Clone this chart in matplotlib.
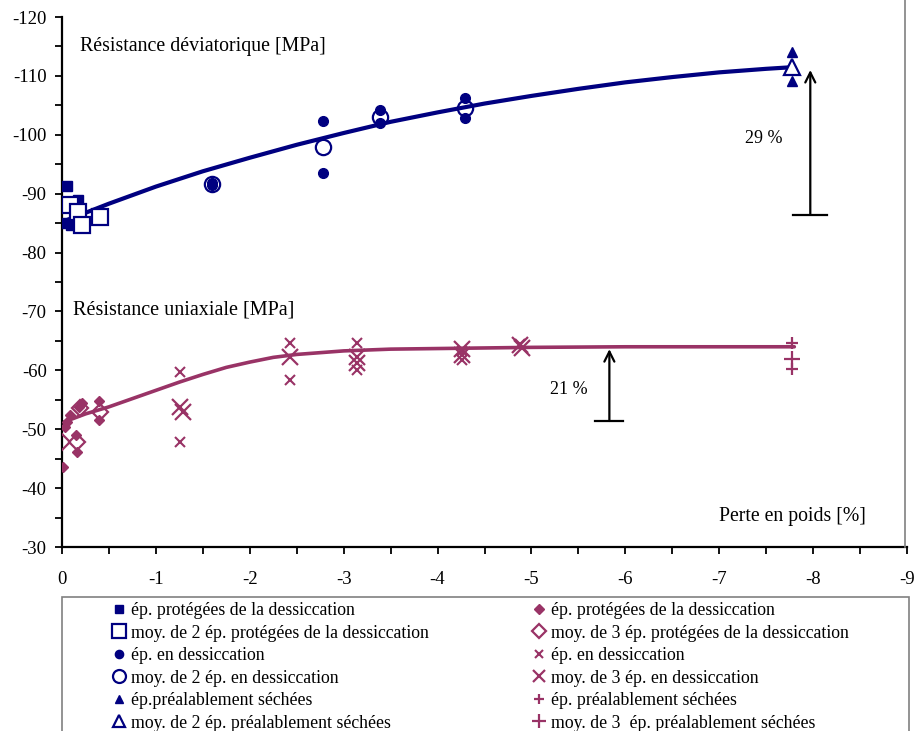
import numpy as np
import matplotlib.pyplot as plt
from matplotlib.patches import Rectangle
from matplotlib.lines import Line2D
from matplotlib.ticker import MultipleLocator

plt.rcParams['font.family'] = ['Liberation Serif', 'DejaVu Serif']
plt.rcParams['axes.unicode_minus'] = False

BLUE = '#000080'
PLUM = '#993366'

# --- Résistance déviatorique (blue) ---
dev_prot_x = [-0.05, -0.17, -0.05, -0.10]
dev_prot_y = [-91.3, -88.9, -85.0, -84.6]
dev_prot_moy_x = [-0.08, -0.17, -0.21, -0.40]
dev_prot_moy_y = [-88.1, -86.9, -84.7, -86.0]

dev_dess_x = [-1.60, -1.60, -2.78, -2.78, -3.39, -3.39, -4.29, -4.29]
dev_dess_y = [-91.4, -91.8, -102.4, -93.5, -104.2, -102.0, -106.3, -102.9]
dev_dess_moy_x = [-1.60, -2.78, -3.39, -4.29]
dev_dess_moy_y = [-91.6, -97.9, -103.1, -104.6]

dev_sech_x = [-7.78, -7.78]
dev_sech_y = [-114.0, -109.2]
dev_sech_moy_x = [-7.78]
dev_sech_moy_y = [-111.5]

dev_curve_x = [0, -0.5, -1, -1.5, -2, -2.5, -3, -3.5, -4, -4.5, -5, -5.5, -6,
               -6.5, -7, -7.5, -7.8]
dev_curve_y = [-85.2, -88.3, -91.2, -93.8, -96.1, -98.3, -100.3, -102.2, -103.8,
               -105.3, -106.6, -107.8, -108.9, -109.8, -110.6, -111.2, -111.5]

# --- Résistance uniaxiale (plum) ---
uni_prot_x = [-0.01, -0.05, -0.08, -0.03, -0.16, -0.15, -0.18, -0.21, -0.39, -0.39]
uni_prot_y = [-43.6, -51.2, -52.4, -50.3, -46.1, -49.0, -53.8, -54.5, -54.8, -51.6]
uni_prot_moy_x = [0.0, -0.16, -0.19, -0.40]
uni_prot_moy_y = [-47.8, -47.8, -53.6, -52.9]

uni_dess_x = [-1.26, -1.26, -2.43, -2.43, -3.14, -3.14, -4.26, -4.26, -4.88]
uni_dess_y = [-59.7, -47.8, -64.7, -58.4, -64.7, -60.1, -63.3, -61.8, -64.5]
uni_dess_moy_x = [-1.26, -1.29, -2.43, -3.14, -3.14, -4.26, -4.26, -4.88, -4.90]
uni_dess_moy_y = [-53.8, -52.9, -62.3, -62.3, -61.3, -63.6, -62.6, -64.3, -63.8]

uni_sech_x = [-7.78, -7.78]
uni_sech_y = [-64.7, -60.2]
uni_sech_moy_x = [-7.78]
uni_sech_moy_y = [-61.9]

uni_curve_x = [0, -0.25, -0.5, -0.75, -1, -1.25, -1.5, -1.75, -2, -2.25, -2.5,
               -3, -3.5, -4, -5, -6, -7, -7.8]
uni_curve_y = [-51.1, -52.6, -53.8, -55.2, -56.6, -58.0, -59.3, -60.5, -61.4,
               -62.2, -62.7, -63.3, -63.6, -63.7, -63.9, -64.0, -64.0, -64.0]

# gain arrows: x, bottom, top
gain_dev = (-7.97, -86.4, -111.0)
gain_uni = (-5.83, -51.4, -63.6)

fig = plt.figure(figsize=(9.17, 7.31), dpi=100)
ax = fig.add_axes([62/917, 1 - 547/731, (907 - 62)/917, (547 - 17)/731])

# trend curves
ax.plot(dev_curve_x, dev_curve_y, color=BLUE, lw=3.0, zorder=2,
        solid_capstyle='round')
ax.plot(uni_curve_x, uni_curve_y, color=PLUM, lw=2.6, zorder=2,
        solid_capstyle='round')

def pts(x, y, **kw):
    return ax.plot(x, y, ls='none', zorder=3, **kw)[0]

h1 = pts(dev_prot_x, dev_prot_y, marker='s', ms=7, color=BLUE)
h2 = pts(dev_prot_moy_x, dev_prot_moy_y, marker='s', ms=12, mfc='white',
         mec=BLUE, mew=1.6)
h3 = pts(dev_dess_x, dev_dess_y, marker='o', ms=7, color=BLUE)
h4 = pts(dev_dess_moy_x, dev_dess_moy_y, marker='o', ms=11, mfc='none',
         mec=BLUE, mew=1.6)
h5 = pts(dev_sech_x, dev_sech_y, marker='^', ms=7.5, color=BLUE)
h6 = pts(dev_sech_moy_x, dev_sech_moy_y, marker='^', ms=11, mfc='white',
         mec=BLUE, mew=1.6)

g1 = pts(uni_prot_x, uni_prot_y, marker='D', ms=5.5, color=PLUM)
g2 = pts(uni_prot_moy_x, uni_prot_moy_y, marker='D', ms=8, mfc='none',
         mec=PLUM, mew=1.6)
g3 = pts(uni_dess_x, uni_dess_y, marker='x', ms=6.5, color=PLUM, mew=1.5)
g4 = pts(uni_dess_moy_x, uni_dess_moy_y, marker='x', ms=11, color=PLUM, mew=1.6)
g5 = pts(uni_sech_x, uni_sech_y, marker='+', ms=8, color=PLUM, mew=1.6)
g6 = pts(uni_sech_moy_x, uni_sech_moy_y, marker='+', ms=12, color=PLUM, mew=1.6)

# gain arrows with a small base bar
for (gx, gb, gt), half in ((gain_dev, 0.18), (gain_uni, 0.15)):
    ax.annotate('', xy=(gx, gt), xytext=(gx, gb),
                arrowprops=dict(arrowstyle='->', color='black', lw=1.6,
                                mutation_scale=18, shrinkA=0, shrinkB=0))
    ax.plot([gx + half, gx - half], [gb, gb], color='black', lw=1.6)

ax.text(-7.27, -99.3, '29 %', fontsize=13, va='center')
ax.text(-5.2, -56.8, '21 %', fontsize=13, va='center')
ax.text(-0.19, -115.0, 'Résistance déviatorique [MPa]', fontsize=14.3,
        va='center')
ax.text(-0.12, -70.3, 'Résistance uniaxiale [MPa]', fontsize=14.5, va='center')
ax.text(-7.0, -35.1, 'Perte en poids [%]', fontsize=14.2, va='center')

ax.set_xlim(0, -9)
ax.set_ylim(-30, -120)
ax.xaxis.set_major_locator(MultipleLocator(1))
ax.xaxis.set_minor_locator(MultipleLocator(0.5))
ax.yaxis.set_major_locator(MultipleLocator(10))
ax.yaxis.set_minor_locator(MultipleLocator(5))
ax.tick_params(which='both', direction='out', length=5, width=1.3)
ax.tick_params(axis='x', labelsize=13.5, pad=12)
ax.tick_params(axis='y', labelsize=13.5, pad=6)
for side in ('top', 'right'):
    ax.spines[side].set_visible(False)
for side in ('left', 'bottom'):
    ax.spines[side].set_linewidth(1.6)

# plot frame edge on the right
fig.add_artist(Line2D([905/917, 905/917], [1 - 547/731, 1.0],
                      transform=fig.transFigure, color='#808080', lw=1.2))

# legend box
fig.add_artist(Rectangle((62/917, -0.01), (909 - 62)/917, 1 - 597/731 + 0.01,
                         transform=fig.transFigure, fill=False,
                         edgecolor='#808080', lw=1.2))

leg_kw = dict(frameon=False, fontsize=12.8, handlelength=0.7, handletextpad=0.3,
              labelspacing=0.31, borderpad=0, borderaxespad=0, loc='upper left')
leg1 = fig.legend([h1, h2, h3, h4, h5, h6],
                  ['ép. protégées de la dessiccation',
                   'moy. de 2 ép. protégées de la dessiccation',
                   'ép. en dessiccation',
                   'moy. de 2 ép. en dessiccation',
                   'ép.préalablement séchées',
                   'moy. de 2 ép. préalablement séchées'],
                  bbox_to_anchor=(113/917, 1 - 602/731), markerscale=0.85,
                  **leg_kw)
leg2 = fig.legend([g1, g2, g3, g4, g5, g6],
                  ['ép. protégées de la dessiccation',
                   'moy. de 3 ép. protégées de la dessiccation',
                   'ép. en dessiccation',
                   'moy. de 3 ép. en dessiccation',
                   'ép. préalablement séchées',
                   'moy. de 3  ép. préalablement séchées'],
                  bbox_to_anchor=(533/917, 1 - 602/731), markerscale=0.85,
                  **leg_kw)

fig.savefig('out.png', dpi=100)
